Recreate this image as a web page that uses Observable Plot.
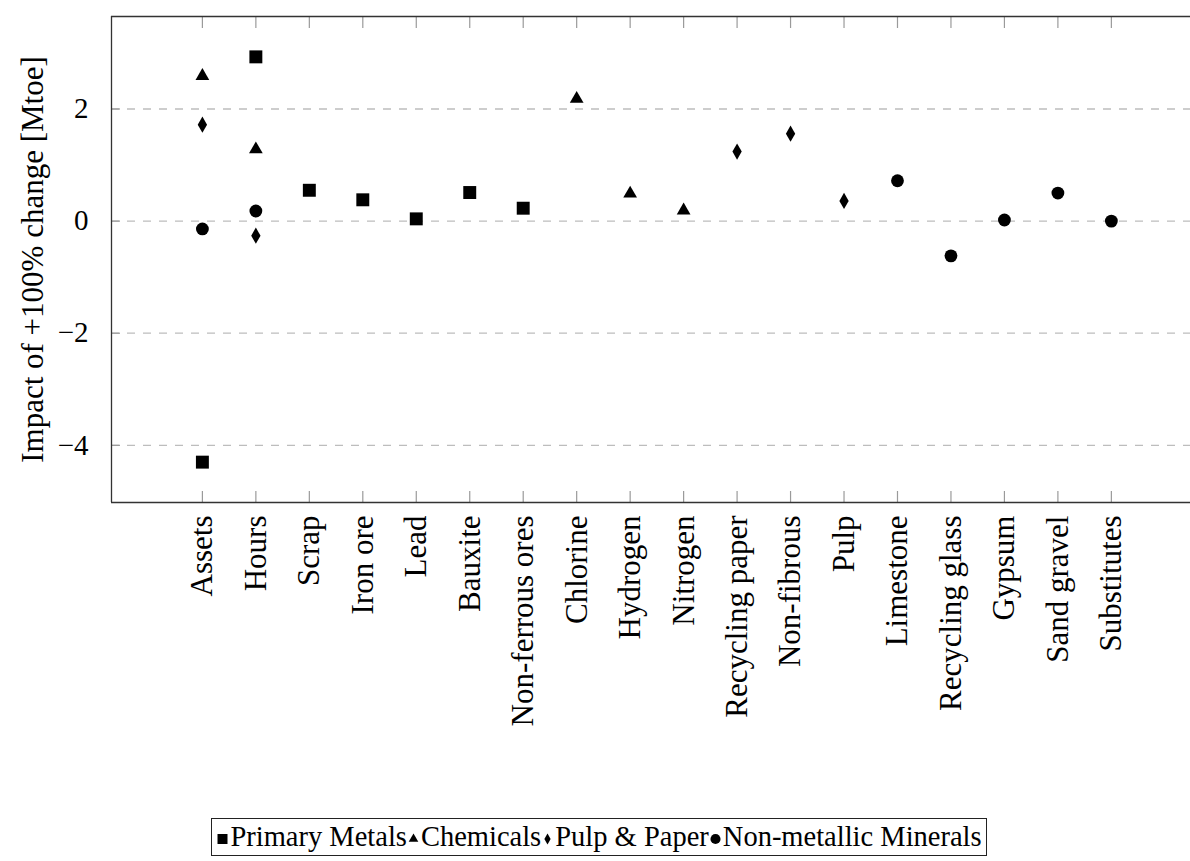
<!DOCTYPE html>
<html>
<head>
<meta charset="utf-8">
<script src="https://cdn.jsdelivr.net/npm/d3@7"></script>
<script src="https://cdn.jsdelivr.net/npm/@observablehq/plot@0.6"></script>
<style>
  html, body { margin: 0; padding: 0; background: white; }
  body { width: 1190px; height: 861px; overflow: hidden; font-family: "Liberation Serif", serif; }
  #legend { display: flex; justify-content: center; margin-top: 18px; padding-left: 8px; }
  #legend .box { display: flex; align-items: center; border: 1.3px solid #222; padding: 0 4px 0 4px; height: 36px; font-size: 28.5px; color: #000; white-space: nowrap; }
  #legend .item { display: flex; align-items: center; }
  #legend svg { display: block; margin-right: 1px; }
</style>
</head>
<body>
<div id="chart"></div>
<div id="legend"></div>
<script>
const categories = ["Assets", "Hours", "Scrap", "Iron ore", "Lead", "Bauxite", "Non-ferrous ores", "Chlorine", "Hydrogen", "Nitrogen", "Recycling paper", "Non-fibrous", "Pulp", "Limestone", "Recycling glass", "Gypsum", "Sand gravel", "Substitutes"];
const primaryMetals = [-4.30, 2.93, 0.55, 0.38, 0.04, 0.51, 0.23, null, null, null, null, null, null, null, null, null, null, null];
const chemicals     = [2.59, 1.28, null, null, null, null, null, 2.18, 0.49, 0.19, null, null, null, null, null, null, null, null];
const pulpPaper     = [1.72, -0.26, null, null, null, null, null, null, null, null, 1.24, 1.56, 0.36, null, null, null, null, null];
const nonMetallic   = [-0.14, 0.18, null, null, null, null, null, null, null, null, null, null, null, 0.72, -0.62, 0.02, 0.50, 0.00];
const seriesNames = ["Primary Metals", "Chemicals", "Pulp & Paper", "Non-metallic Minerals"];
const yTicks = [-4, -2, 0, 2];
const yLabel = "Impact of +100% change [Mtoe]";

const toRows = (arr, name) => arr.map((v, i) => ({i, cat: categories[i], v, series: name})).filter(d => d.v !== null);
const pm = toRows(primaryMetals, seriesNames[0]);
const ch = toRows(chemicals, seriesNames[1]);
const pp = toRows(pulpPaper, seriesNames[2]);
const nm = toRows(nonMetallic, seriesNames[3]);

const fmt = d => d < 0 ? "\u2212" + Math.abs(d) : String(d);
const idx = d3.range(categories.length);
const serif = "Liberation Serif";

const chart = Plot.plot({
  width: 1190,
  height: 800,
  marginLeft: 111,
  marginRight: 0,
  marginTop: 16,
  marginBottom: 298,
  x: {domain: [-1.7, 18.48]},
  y: {domain: [-5.02, 3.65]},
  style: {fontFamily: serif, fontSize: "29px", color: "#000", background: "white", overflow: "visible"},
  marks: [
    Plot.ruleY(yTicks, {stroke: "#bdbdbd", strokeOpacity: 1, strokeWidth: 1.3, strokeDasharray: "8,8"}),
    Plot.axisY({ticks: yTicks, tickSize: 9, dx: 9, tickFormat: () => "", label: null, stroke: "#9a9a9a", strokeWidth: 1.2}),
    Plot.axisX({anchor: "bottom", ticks: idx, tickSize: 11, dy: -11, tickFormat: () => "", label: null, stroke: "#9a9a9a", strokeWidth: 1.2}),
    Plot.axisX({anchor: "top", ticks: idx, tickSize: 11, dy: 11, tickFormat: () => "", label: null, stroke: "#9a9a9a", strokeWidth: 1.2}),
    Plot.axisY({ticks: yTicks, tickSize: 0, tickPadding: 23, tickFormat: fmt, label: null, fontSize: 29, fontFamily: serif}),
    Plot.axisY({ticks: yTicks, tickSize: 0, tickFormat: () => "", label: yLabel, labelAnchor: "center", labelArrow: "none", labelOffset: 91, fontSize: 31, fontFamily: serif}),
    Plot.axisX({anchor: "bottom", ticks: idx, tickSize: 0, tickPadding: 13, tickRotate: -90, tickFormat: i => categories[i], label: null, fontSize: 31, fontFamily: serif}),
    Plot.ruleX([-1.7], {stroke: "#333", strokeWidth: 1.3}),
    Plot.ruleY([-5.02, 3.65], {stroke: "#333", strokeWidth: 1.3}),
    Plot.dot(pm, {x: "i", y: "v", symbol: "square", r: 7.3, fill: "#000", stroke: null}),
    Plot.dot(ch, {x: "i", y: "v", symbol: "triangle", r: 5.1, fill: "#000", stroke: null}),
    Plot.dot(pp, {x: "i", y: "v", symbol: "diamond", r: 4.9, fill: "#000", stroke: null}),
    Plot.dot(nm, {x: "i", y: "v", symbol: "circle", r: 6.4, fill: "#000", stroke: null})
  ]
});
document.getElementById("chart").appendChild(chart);

const legendSymbols = [
  {name: seriesNames[0], sym: d3.symbolSquare, size: 100},
  {name: seriesNames[1], sym: d3.symbolTriangle, size: 40},
  {name: seriesNames[2], sym: d3.symbolDiamond, size: 34},
  {name: seriesNames[3], sym: d3.symbolCircle, size: 80}
];
const box = d3.select("#legend").append("div").attr("class", "box");
legendSymbols.forEach(s => {
  const it = box.append("div").attr("class", "item");
  const svg = it.append("svg").attr("width", 13).attr("height", 20).attr("viewBox", "-6.5 -10 13 20");
  svg.append("path").attr("d", d3.symbol(s.sym, s.size)()).attr("fill", "#000").attr("transform", "translate(0,2)");
  it.append("span").text(s.name);
});
</script>
</body>
</html>
